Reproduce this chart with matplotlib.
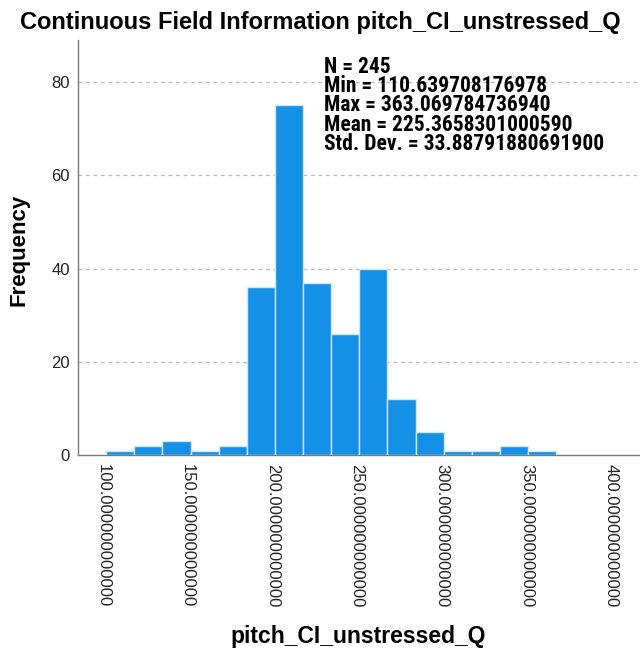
import numpy as np
import matplotlib
matplotlib.use("Agg")
import matplotlib.pyplot as plt

# bin edges and counts
bin_start = 101.95
bin_width = 16.6
counts = [1, 2, 3, 1, 2, 36, 75, 37, 26, 40, 12, 5, 1, 1, 2, 1]
x_ticks = [100, 150, 200, 250, 300, 350, 400]
y_ticks = [0, 20, 40, 60, 80]
stats_lines = [
  "N = 245",
  "Min = 110.639708176978",
  "Max = 363.069784736940",
  "Mean = 225.3658301000590",
  "Std. Dev. = 33.88791880691900",
]
title = "Continuous Field Information pitch_CI_unstressed_Q"
x_label = "pitch_CI_unstressed_Q"

plt.rcParams['font.family'] = ['Liberation Sans', 'DejaVu Sans']

fig = plt.figure(figsize=(6.4, 6.56), dpi=100)
ax = fig.add_axes([0.122, 0.306, 0.878, 0.633])

lefts = bin_start + bin_width * np.arange(len(counts))
ax.bar(lefts, counts, width=bin_width, align='edge', color='#1491e6',
       edgecolor='#cfe6f8', linewidth=1.0, zorder=3)

ax.set_xlim(85.4, 417)
ax.set_ylim(0, 89)
ax.set_xticks(x_ticks)
ax.set_xticklabels([f"{v:.12f}" for v in x_ticks], rotation=-90, fontsize=12,
                   color='#222222')
ax.set_yticks(y_ticks)
ax.set_yticklabels([str(v) for v in y_ticks], fontsize=12, color='#222222')
ax.tick_params(axis='both', length=0, pad=6)

for v in y_ticks[1:]:
  ax.axhline(v, color='#b8b8b8', linestyle=(0, (3, 3)), linewidth=0.9, zorder=1)

for side in ['top', 'right']:
  ax.spines[side].set_visible(False)
for side in ['left', 'bottom']:
  ax.spines[side].set_color('#7a7a7a')
  ax.spines[side].set_linewidth(1.0)

fig.text(0.029, 0.619, "Frequency", fontsize=16, fontweight='bold', rotation=90,
         ha='center', va='center')
fig.text(0.56, 0.029, x_label, fontsize=16.5, fontweight='bold', ha='center', va='center')
fig.text(0.5, 0.966, title, fontsize=17, fontweight='bold', ha='center', va='center')

ax.text(0.437, 0.962, "\n".join(stats_lines), transform=ax.transAxes,
        fontsize=15.5, fontweight='bold', va='top', ha='left', linespacing=0.84,
        family=['Roboto Condensed', 'Liberation Sans'], zorder=4)

fig.savefig("out.png", dpi=100)
